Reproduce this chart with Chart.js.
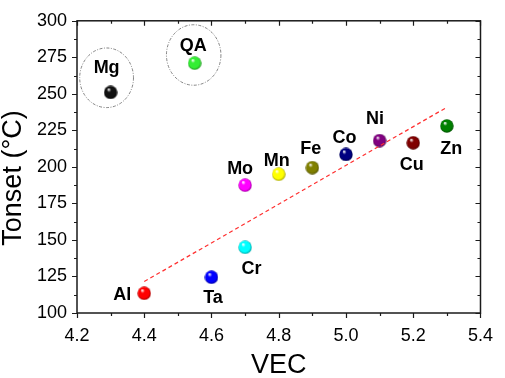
<!DOCTYPE html>
<html>
<head>
<meta charset="utf-8">
<script src="https://cdn.jsdelivr.net/npm/chart.js@4.4.1/dist/chart.umd.min.js"></script>
<style>
  html, body { margin: 0; padding: 0; background: #fff; }
  #wrap { width: 505px; height: 378px; position: relative; }
</style>
</head>
<body>
<div id="wrap"><canvas id="chart"></canvas></div>
<script>
// Onset temperature vs valence electron concentration
const elements = ['Mg', 'QA', 'Mo', 'Mn', 'Fe', 'Co', 'Ni', 'Cu', 'Zn', 'Cr', 'Ta', 'Al'];
const vec = [4.3, 4.55, 4.7, 4.8, 4.9, 5.0, 5.1, 5.2, 5.3, 4.7, 4.6, 4.4];
const tonset = [251, 271, 187.5, 195, 199.5, 208.5, 218, 216.5, 228, 145, 124.5, 113.5];

// linear fit end points
const fitVec = [4.4, 5.3];
const fitTonset = [121.5, 240.8];

// axis ranges / ticks
const xRange = [4.2, 5.4];
const yRange = [100, 300];
const xStep = 0.2;
const yStep = 25;

// grouping ellipses (centre x, centre y, radius x, radius y in data units)
const ellipseCx = [4.288, 4.547];
const ellipseCy = [261, 276.6];
const ellipseRx = [0.08, 0.081];
const ellipseRy = [20.4, 20.7];

// styling
const ballColors = ['#111111', '#33ee33', '#ff00ff', '#ffff00', '#808000', '#000080',
  '#800080', '#800000', '#008000', '#00ffff', '#0000ff', '#ff0000'];
const labelShift = [[-4, -26], [-1.5, -19], [-5, -18], [-2, -15], [-1.5, -20.5], [-1.5, -17.5],
  [-4.5, -23], [-1.5, 20.5], [4.5, 22], [6.5, 20.5], [1.5, 19.5], [-22, 0.5]];
const FONT = '"Liberation Sans", Arial, sans-serif';
const LABEL_SIZE = 18;

function shade(hex, k) {
  const n = parseInt(hex.slice(1), 16);
  const r = Math.round(((n >> 16) & 255) * k);
  const g = Math.round(((n >> 8) & 255) * k);
  const b = Math.round((n & 255) * k);
  return `rgb(${r},${g},${b})`;
}

function makeSphere(color, d) {
  const c = document.createElement('canvas');
  c.width = d;
  c.height = d;
  const g = c.getContext('2d');
  const r = d / 2;
  const grad = g.createRadialGradient(r - r * 0.3, r - r * 0.45, 0.3, r, r, r);
  grad.addColorStop(0, '#ffffff');
  grad.addColorStop(0.28, color);
  grad.addColorStop(0.75, color);
  grad.addColorStop(1, shade(color, 0.6));
  g.fillStyle = grad;
  g.beginPath();
  g.arc(r, r, r - 0.3, 0, Math.PI * 2);
  g.fill();
  return c;
}

const spheres = ballColors.map(c => makeSphere(c, 14));

// ellipses behind the balls
const ellipsePlugin = {
  id: 'ellipses',
  beforeDatasetsDraw(chart) {
    const { ctx, scales: { x, y } } = chart;
    ctx.save();
    ctx.strokeStyle = '#666';
    ctx.lineWidth = 0.8;
    ctx.setLineDash([3, 1.5, 1, 1.5]);
    ellipseCx.forEach((cx, i) => {
      const px = x.getPixelForValue(cx);
      const py = y.getPixelForValue(ellipseCy[i]);
      const rx = Math.abs(x.getPixelForValue(cx + ellipseRx[i]) - px);
      const ry = Math.abs(y.getPixelForValue(ellipseCy[i] + ellipseRy[i]) - py);
      ctx.beginPath();
      ctx.ellipse(px, py, rx, ry, 0, 0, Math.PI * 2);
      ctx.stroke();
    });
    ctx.restore();
  }
};

// element names next to the balls
const labelPlugin = {
  id: 'elementLabels',
  afterDatasetsDraw(chart) {
    const { ctx } = chart;
    const meta = chart.getDatasetMeta(1);
    ctx.save();
    ctx.font = `bold ${LABEL_SIZE}px ${FONT}`;
    ctx.fillStyle = '#000';
    ctx.textAlign = 'center';
    ctx.textBaseline = 'alphabetic';
    meta.data.forEach((pt, i) => {
      const [dx, dy] = labelShift[i];
      ctx.fillText(elements[i], pt.x + dx, pt.y + dy + LABEL_SIZE * 0.358);
    });
    ctx.restore();
  }
};

// box frame with major/minor ticks (out on bottom/left, in on top/right)
const framePlugin = {
  id: 'frame',
  afterDraw(chart) {
    const { ctx, chartArea: a, scales: { x, y } } = chart;
    ctx.save();
    ctx.strokeStyle = '#1a1a1a';
    ctx.lineWidth = 1.5;
    ctx.strokeRect(a.left, a.top, a.right - a.left, a.bottom - a.top);
    ctx.lineWidth = 1.2;
    const xt = x.ticks.map(t => t.value);
    const yt = y.ticks.map(t => t.value);
    const tickSet = vals => {
      const out = [];
      vals.forEach((v, i) => {
        out.push([v, 5]);
        if (i < vals.length - 1) out.push([(v + vals[i + 1]) / 2, 3]);
      });
      return out;
    };
    ctx.beginPath();
    tickSet(xt).forEach(([v, len]) => {
      const px = Math.round(x.getPixelForValue(v)) + 0.5;
      ctx.moveTo(px, a.bottom);
      ctx.lineTo(px, a.bottom + len);
      ctx.moveTo(px, a.top);
      ctx.lineTo(px, a.top + len);
    });
    tickSet(yt).forEach(([v, len]) => {
      const py = Math.round(y.getPixelForValue(v)) + 0.5;
      ctx.moveTo(a.left, py);
      ctx.lineTo(a.left - len, py);
      ctx.moveTo(a.right, py);
      ctx.lineTo(a.right - len, py);
    });
    ctx.stroke();

    // y axis title
    ctx.font = `27px ${FONT}`;
    ctx.fillStyle = '#000';
    ctx.textAlign = 'center';
    ctx.textBaseline = 'middle';
    ctx.translate(14, 178);
    ctx.rotate(-Math.PI / 2);
    ctx.fillText('Tonset (°C)', 0, 0);
    ctx.restore();
  }
};

const ctx = document.getElementById('chart').getContext('2d');
new Chart(ctx, {
  type: 'scatter',
  data: {
    datasets: [
      {
        type: 'line',
        label: 'Fit',
        data: fitVec.map((v, i) => ({ x: v, y: fitTonset[i] })),
        borderColor: '#ff3030',
        borderWidth: 1.2,
        borderDash: [4, 3],
        pointRadius: 0,
        fill: false
      },
      {
        label: 'Tonset',
        data: vec.map((v, i) => ({ x: v, y: tonset[i] })),
        pointStyle: spheres,
        pointRadius: 7,
        pointHoverRadius: 7
      }
    ]
  },
  options: {
    responsive: true,
    maintainAspectRatio: false,
    animation: false,
    layout: { padding: { left: 0, top: 9, right: 13, bottom: 0 }, autoPadding: false },
    plugins: {
      legend: { display: false },
      tooltip: { enabled: false }
    },
    scales: {
      x: {
        type: 'linear',
        min: xRange[0],
        max: xRange[1],
        afterFit: s => { s.height = 65; },
        border: { display: false },
        grid: { drawOnChartArea: false, drawTicks: false, color: 'transparent' },
        ticks: {
          stepSize: xStep,
          padding: 12,
          color: '#000',
          font: { family: FONT, size: 18 },
          callback: v => v.toFixed(1)
        },
        title: {
          display: true,
          text: 'VEC',
          color: '#000',
          font: { family: FONT, size: 27, lineHeight: 0.9 },
          padding: 0
        }
      },
      y: {
        type: 'linear',
        min: yRange[0],
        max: yRange[1],
        afterFit: s => { s.width = 77; },
        border: { display: false },
        grid: { drawOnChartArea: false, drawTicks: false, color: 'transparent' },
        ticks: {
          stepSize: yStep,
          padding: 10,
          color: '#000',
          font: { family: FONT, size: 18 },
          callback: v => String(Math.round(v))
        }
      }
    }
  },
  plugins: [ellipsePlugin, labelPlugin, framePlugin]
});
</script>
</body>
</html>
